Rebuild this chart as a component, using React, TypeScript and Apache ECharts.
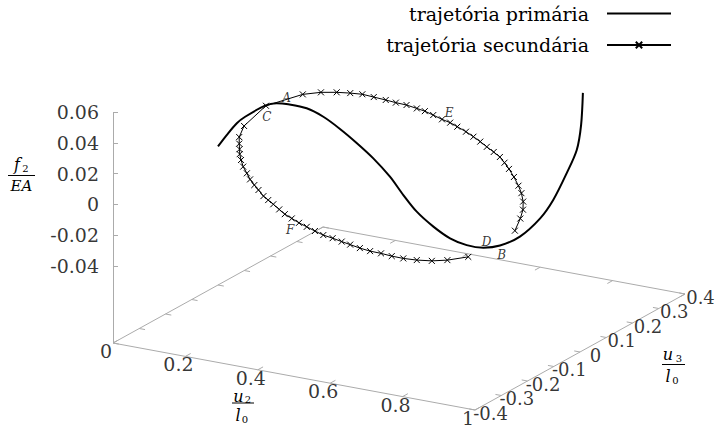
import React, { useEffect, useRef } from "react";
import * as echarts from "echarts";

// ---- tick values ----
const u2Ticks = [0, 0.2, 0.4, 0.6, 0.8, 1];
const u3Ticks = [-0.4, -0.3, -0.2, -0.1, 0, 0.1, 0.2, 0.3, 0.4];
const f2Ticks = [-0.04, -0.02, 0, 0.02, 0.04, 0.06];

// ---- primary trajectory (lies in the plane u3 = 0) ----
const primaryU3 = 0;
const primaryU2 = [0, 0.024, 0.052, 0.075, 0.13, 0.162, 0.194, 0.245, 0.291, 0.337, 0.383, 0.429, 0.475, 0.512, 0.549, 0.595, 0.641, 0.687, 0.733, 0.779, 0.834, 0.89, 0.926, 0.963, 0.991, 1.003, 1.008];
const primaryF2 = [0, 0.0084, 0.0173, 0.0225, 0.0321, 0.0351, 0.0358, 0.0354, 0.0319, 0.026, 0.0189, 0.0109, 0.001, -0.0093, -0.0185, -0.0262, -0.0318, -0.0342, -0.0339, -0.0305, -0.0223, -0.008, 0.0055, 0.0244, 0.0408, 0.0575, 0.0786];

// ---- secondary trajectory ----
const secondaryU2 = [0.766, 0.746, 0.727, 0.705, 0.683, 0.662, 0.641, 0.621, 0.6, 0.579, 0.56, 0.54, 0.52, 0.499, 0.478, 0.458, 0.438, 0.418, 0.399, 0.379, 0.362, 0.346, 0.325, 0.307, 0.288, 0.269, 0.248, 0.229, 0.213, 0.201, 0.187, 0.171, 0.151, 0.131, 0.153, 0.172, 0.193, 0.213, 0.232, 0.254, 0.277, 0.297, 0.317, 0.339, 0.356, 0.377, 0.399, 0.418, 0.437, 0.461, 0.483, 0.504, 0.525, 0.547, 0.567, 0.587, 0.608, 0.634, 0.661, 0.683, 0.706, 0.725, 0.743, 0.765];
const secondaryU3 = [-0.103, -0.155, -0.188, -0.215, -0.236, -0.251, -0.263, -0.277, -0.287, -0.295, -0.301, -0.308, -0.316, -0.319, -0.321, -0.323, -0.323, -0.322, -0.317, -0.312, -0.308, -0.304, -0.294, -0.285, -0.275, -0.261, -0.246, -0.228, -0.211, -0.195, -0.177, -0.155, -0.109, 0.002, 0.112, 0.155, 0.186, 0.21, 0.23, 0.243, 0.257, 0.268, 0.281, 0.29, 0.297, 0.3, 0.303, 0.308, 0.309, 0.309, 0.307, 0.304, 0.3, 0.296, 0.292, 0.282, 0.27, 0.253, 0.233, 0.214, 0.189, 0.162, 0.127, 0.076];
const secondaryF2 = [-0.0287, -0.0268, -0.025, -0.0229, -0.0208, -0.0188, -0.0168, -0.0149, -0.0129, -0.0108, -0.0091, -0.0071, -0.0052, -0.0032, -0.0012, 0.0007, 0.0027, 0.0045, 0.0063, 0.0083, 0.0099, 0.0114, 0.0135, 0.0151, 0.017, 0.0188, 0.0208, 0.0226, 0.0241, 0.0253, 0.0266, 0.0281, 0.0301, 0.0319, 0.0299, 0.028, 0.026, 0.0241, 0.0223, 0.0202, 0.018, 0.0161, 0.0142, 0.0121, 0.0104, 0.0085, 0.0064, 0.0046, 0.0027, 0.0005, -0.0016, -0.0036, -0.0057, -0.0077, -0.0097, -0.0116, -0.0136, -0.0161, -0.0187, -0.0208, -0.0229, -0.0248, -0.0265, -0.0286];

// ---- labelled points ----
const pointNames = ["A", "B", "C", "D", "E", "F"];
const pointU2 = [0.141, 0.806, 0.159, 0.754, 0.394, 0.464];
const pointU3 = [0.067, -0.031, -0.033, -0.017, 0.337, -0.365];
const pointF2 = [0.031, -0.0326, 0.0293, -0.0275, 0.0069, 0.0002];

const seriesNames = ["trajetória primária", "trajetória secundária"];

// ---- 3D view (gnuplot-like oblique projection) ----
const U2_MIN = 0, U2_MAX = 1;
const U3_MIN = -0.4, U3_MAX = 0.4;
const F2_MIN = -0.04, F2_MAX = 0.06;
const TICS_LEVEL = 0.5;
const BASE = F2_MIN - TICS_LEVEL * (F2_MAX - F2_MIN);
const ORIGIN = [113, 343];
const E_U2 = [362, 67];
const E_U3 = [262.5, -145];
const E_F2 = -1540;

function project(u2: number, u3: number, f2: number): number[] {
  const a = u2 - U2_MIN, b = u3 - U3_MIN, c = f2 - BASE;
  return [ORIGIN[0] + a * E_U2[0] + b * E_U3[0], ORIGIN[1] + a * E_U2[1] + b * E_U3[1] + c * E_F2];
}
const fmt = (v: number) => String(Number(v.toFixed(3)));

const SERIF = "DejaVu Serif";

function buildOption() {
  const seg = (p: number[], q: number[]) => ({ coords: [p, q] });
  const boxLines: any[] = [
    seg(project(U2_MIN, U3_MIN, BASE), project(U2_MAX, U3_MIN, BASE)),
    seg(project(U2_MAX, U3_MIN, BASE), project(U2_MAX, U3_MAX, BASE)),
    seg(project(U2_MIN, U3_MAX, BASE), project(U2_MAX, U3_MAX, BASE)),
    seg(project(U2_MIN, U3_MIN, BASE), project(U2_MIN, U3_MAX, BASE)),
    seg(project(U2_MIN, U3_MIN, BASE), project(U2_MIN, U3_MIN, F2_MAX)),
  ];
  const t2 = 0.02;
  u2Ticks.forEach((v) => {
    boxLines.push(seg(project(v, U3_MIN, BASE), project(v, U3_MIN + t2, BASE)));
    boxLines.push(seg(project(v, U3_MAX, BASE), project(v, U3_MAX - t2, BASE)));
  });
  const t3 = 0.016;
  u3Ticks.forEach((v) => {
    boxLines.push(seg(project(U2_MIN, v, BASE), project(U2_MIN + t3, v, BASE)));
    boxLines.push(seg(project(U2_MAX, v, BASE), project(U2_MAX - t3, v, BASE)));
  });
  f2Ticks.forEach((v) => {
    const p = project(U2_MIN, U3_MIN, v);
    boxLines.push(seg(p, [p[0] + 5, p[1]]));
  });

  const labelFont = { fontFamily: SERIF, fontSize: 19, color: "#000", lineHeight: 14 };

  const primaryData = primaryU2.map((u, i) => project(u, primaryU3, primaryF2[i]));
  const secondaryData = secondaryU2.map((u, i) => project(u, secondaryU3[i], secondaryF2[i]));

  const legendBase = {
    orient: "vertical",
    right: 43,
    align: "right",
    itemWidth: 64,
    itemHeight: 8,
    padding: 0,
    selectedMode: false,
    textStyle: { fontFamily: SERIF, fontSize: 19, color: "#000", padding: [0, 13, 0, 0] },
  };

  const t = (text: string, x: number, y: number, size: number, italic: boolean) => ({
    type: "text",
    x,
    y,
    style: {
      text,
      fontFamily: SERIF,
      fontStyle: italic ? "italic" : "normal",
      fontSize: size,
      lineHeight: size,
      fill: "#000",
      align: "center",
      verticalAlign: "middle",
    },
  });
  const bar = (x1: number, x2: number, y: number) => ({
    type: "line",
    shape: { x1, y1: y, x2, y2: y },
    style: { stroke: "#000", lineWidth: 1 },
  });

  return {
    animation: false,
    backgroundColor: "#fff",
    grid: { left: 0, right: 0, top: 0, bottom: 0 },
    xAxis: { type: "value", min: 0, max: 715, show: false },
    yAxis: { type: "value", min: 0, max: 428, inverse: true, show: false },
    legend: [
      { ...legendBase, data: [seriesNames[0]], top: 4, itemStyle: { opacity: 0 } },
      { ...legendBase, data: [seriesNames[1]], top: 35.5 },
    ],
    graphic: [
      t("f", 17, 164, 16, true),
      t("2", 25.5, 168.5, 10, false),
      bar(8, 35, 175.5),
      t("EA", 21.5, 185.5, 15, true),

      t("u", 238.5, 396, 16, true),
      t("2", 248, 399.5, 10, false),
      bar(232, 254, 403),
      t("l", 238, 415, 16, true),
      t("0", 245, 419.5, 10, false),

      t("u", 668, 354.5, 16, true),
      t("3", 679, 358.5, 10, false),
      bar(662, 685, 364.5),
      t("l", 668, 376, 16, true),
      t("0", 675.5, 380.5, 10, false),
    ],
    series: [
      {
        type: "lines",
        coordinateSystem: "cartesian2d",
        silent: true,
        z: 1,
        lineStyle: { color: "#ababab", width: 1, opacity: 1, curveness: 0 },
        data: boxLines,
      },
      {
        type: "scatter",
        silent: true,
        symbolSize: 0,
        data: u2Ticks.map((v) => ({ value: project(v, U3_MIN, BASE), name: fmt(v) })),
        label: { show: true, position: "inside", formatter: "{b}", offset: [-7, 8], ...labelFont },
      },
      {
        type: "scatter",
        silent: true,
        symbolSize: 0,
        data: u3Ticks.map((v) => ({ value: project(U2_MAX, v, BASE), name: fmt(v) })),
        label: { show: true, position: "inside", formatter: "{b}", offset: [15.5, 3], ...labelFont, fontSize: 18 },
      },
      {
        type: "scatter",
        silent: true,
        symbolSize: 0,
        data: f2Ticks.map((v) => ({ value: project(U2_MIN, U3_MIN, v), name: fmt(v) })),
        label: { show: true, position: "left", distance: 14, formatter: "{b}", ...labelFont },
      },
      {
        name: seriesNames[0],
        type: "line",
        z: 3,
        symbol: "none",
        smooth: 0.3,
        data: primaryData,
        lineStyle: { color: "#000", width: 2 },
        itemStyle: { color: "#000" },
      },
      {
        name: seriesNames[1],
        type: "line",
        z: 4,
        symbol: "path://M0,0L10,10M10,0L0,10",
        symbolSize: 6,
        showSymbol: true,
        showAllSymbol: true,
        data: secondaryData,
        lineStyle: { color: "#000", width: 1 },
        itemStyle: { color: "#000", borderColor: "#000", borderWidth: 1 },
      },
      {
        type: "scatter",
        silent: true,
        symbolSize: 0,
        z: 5,
        data: pointNames.map((n, i) => ({ value: project(pointU2[i], pointU3[i], pointF2[i]), name: n })),
        label: { show: true, position: "inside", formatter: "{b}", fontFamily: SERIF, fontStyle: "italic", fontSize: 12, color: "#000" },
      },
    ],
  };
}

export default function App() {
  const ref = useRef<HTMLDivElement>(null);
  useEffect(() => {
    const chart = echarts.init(ref.current as HTMLDivElement, null, { renderer: "svg" });
    chart.setOption(buildOption() as any);
    return () => chart.dispose();
  }, []);
  return (
    <div
      ref={ref}
      style={{ position: "fixed", left: 0, top: 0, width: 715, height: 428, background: "#fff" }}
    />
  );
}
